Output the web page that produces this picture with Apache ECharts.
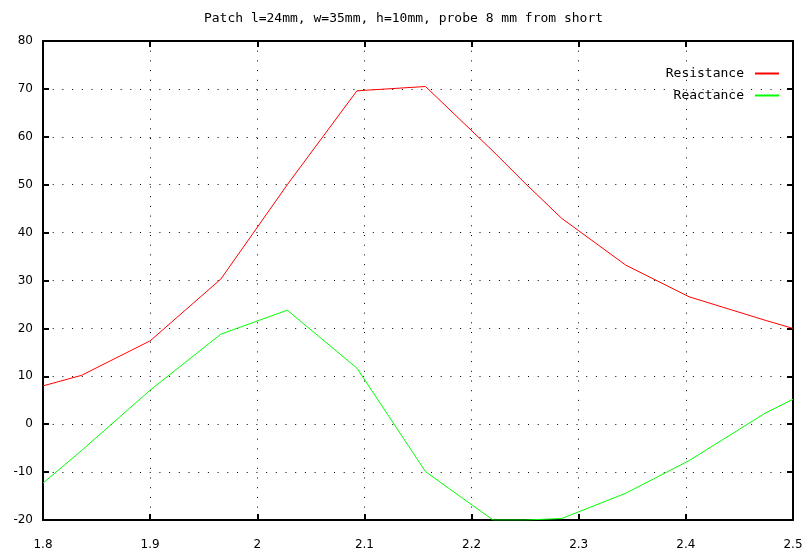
<!DOCTYPE html>
<html>
<head>
<meta charset="utf-8">
<script src="https://cdn.jsdelivr.net/npm/echarts@6/dist/echarts.min.js"></script>
<style>html,body{margin:0;padding:0;background:#fff}#c{width:807px;height:556px}</style>
</head>
<body>
<div id="c"></div>
<script>
var titleText = 'Patch l=24mm, w=35mm, h=10mm, probe 8 mm from short';
var freq = [1.8, 1.836, 1.9, 1.966, 2.028, 2.093, 2.157, 2.22, 2.25, 2.284, 2.344, 2.403, 2.474, 2.5];
var resistance = [8.0, 10.2, 17.4, 30.3, 50.0, 69.6, 70.5, 57.0, 50.3, 43.0, 33.2, 26.6, 21.7, 20.0];
var reactance = [-12.3, -5.5, 7.1, 18.8, 23.8, 11.7, -9.9, -20.0, -20.0, -19.7, -14.4, -7.6, 2.3, 5.2];
var seriesNames = ['Resistance', 'Reactance'];
var seriesColors = ['#ff0000', '#00ff00'];

function pair(xs, ys) { return xs.map(function (x, i) { return [x, ys[i]]; }); }

var labelFont = { fontFamily: 'DejaVu Sans', fontSize: 12, color: '#000' };
var chart = echarts.init(document.getElementById('c'), null, { renderer: 'canvas' });
var axisLine = { show: true, onZero: false, lineStyle: { color: '#000', width: 2 } };
var tick = { show: true, inside: true, length: 6, lineStyle: { color: '#000', width: 2 } };
var grid = { show: true, lineStyle: { color: '#000', width: 1, type: [1, 8.7] } };
chart.setOption({
  animation: false,
  backgroundColor: '#fff',
  title: {
    text: titleText, left: 'center', top: 7,
    textStyle: { fontFamily: 'DejaVu Sans Mono', fontSize: 13, fontWeight: 'normal', color: '#000' }
  },
  legend: {
    orient: 'vertical', right: 23, top: 62, align: 'right', itemGap: 9,
    itemWidth: 24, itemHeight: 2, icon: 'rect',
    textStyle: { fontFamily: 'DejaVu Sans Mono', fontSize: 13, color: '#000', padding: [0, 6, 0, 0] },
    data: seriesNames
  },
  grid: { left: 43, right: 14, top: 41, bottom: 36, containLabel: false },
  xAxis: [{
    type: 'value', min: 1.8, max: 2.5, interval: 0.1, position: 'bottom',
    axisLine: axisLine, axisTick: tick, splitLine: grid,
    axisLabel: Object.assign({ margin: 19, formatter: function (v) { return String(+v.toFixed(1)); } }, labelFont)
  }, {
    type: 'value', min: 1.8, max: 2.5, interval: 0.1, position: 'top',
    axisLine: axisLine, axisTick: tick, splitLine: { show: false }, axisLabel: { show: false }
  }],
  yAxis: [{
    type: 'value', min: -20, max: 80, interval: 10, position: 'left',
    axisLine: axisLine, axisTick: tick, splitLine: grid,
    axisLabel: Object.assign({ margin: 10 }, labelFont)
  }, {
    type: 'value', min: -20, max: 80, interval: 10, position: 'right',
    axisLine: axisLine, axisTick: tick, splitLine: { show: false }, axisLabel: { show: false }
  }],
  series: [{
    name: seriesNames[0], type: 'line', data: pair(freq, resistance),
    showSymbol: false, color: seriesColors[0], lineStyle: { color: seriesColors[0], width: 1 }
  }, {
    name: seriesNames[1], type: 'line', data: pair(freq, reactance),
    showSymbol: false, color: seriesColors[1], lineStyle: { color: seriesColors[1], width: 1 }
  }]
});
</script>
</body>
</html>
